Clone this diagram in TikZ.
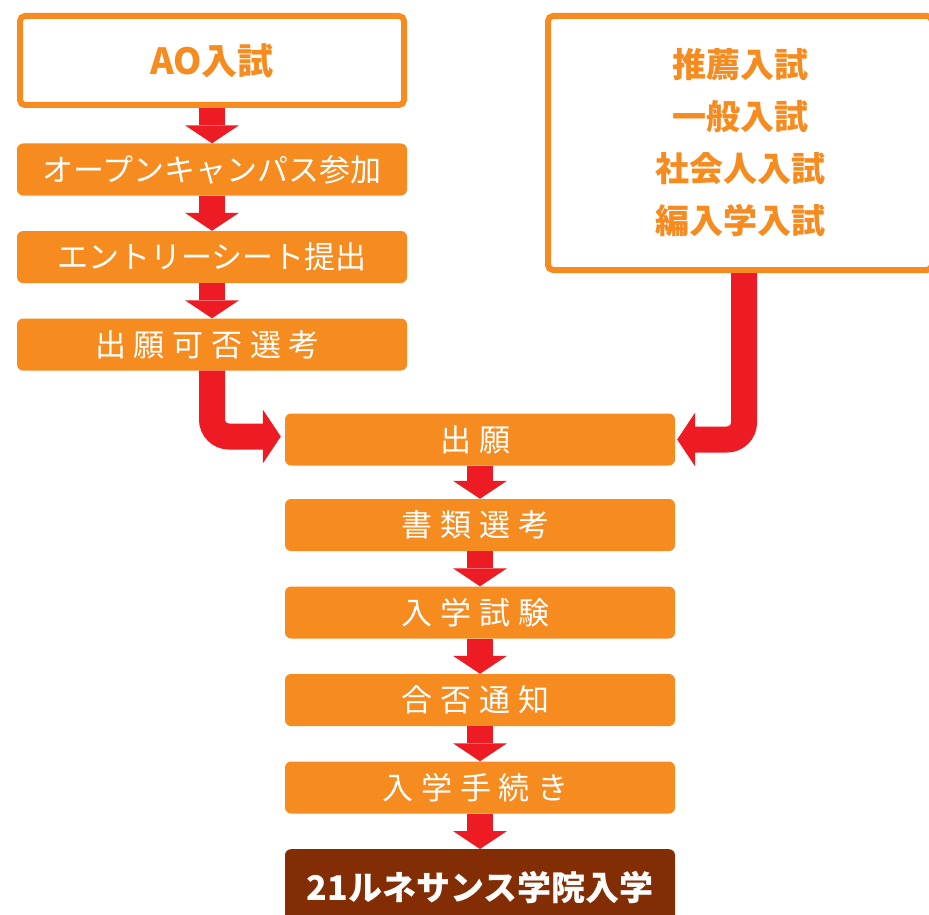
\documentclass[tikz,border=0pt]{standalone}
\usepackage{fontspec}
\newfontfamily\jp{Noto Sans CJK JP}
\newfontfamily\jpw[LetterSpace=25]{Noto Sans CJK JP}
\newcommand\wtxt[1]{#1\kern9pt}
\usetikzlibrary{arrows.meta}
\definecolor{ora}{HTML}{F68B1F}
\definecolor{arr}{HTML}{ED1C24}
\definecolor{brn}{HTML}{832D04}
\begin{document}
\begin{tikzpicture}[x=1pt,y=-1pt,
  outline/.style={draw=ora,line width=6pt,fill=white,rounded corners=5pt,minimum width=384pt,inner sep=0pt,text=ora,font=\jp\bfseries\fontsize{34}{52}\selectfont,align=center},
  stage/.style={fill=ora,rounded corners=6pt,minimum width=390pt,minimum height=52pt,text=white,inner sep=0pt,font=\jp\fontsize{31}{36}\selectfont},
  wide/.style={stage,font=\jpw\fontsize{31}{36}\selectfont},
  final/.style={fill=brn,rounded corners=6pt,minimum width=390pt,minimum height=80pt,text=white,inner sep=0pt,font=\jp\bfseries\fontsize{34}{40}\selectfont},
  flow/.style={draw=arr,line width=26pt,-{Triangle[width=54pt,length=18pt,line width=0pt]}},
]
\useasboundingbox (0,0) rectangle (929,915);
\clip (0,0) rectangle (929,915);
\fill[white] (0,0) rectangle (929,915);

% left column
\node[outline,minimum height=89pt,font=\jp\bfseries\fontsize{36}{52}\selectfont] (ao) at (212,60.5) {AO入試};
\node[stage] (oc) at (212,169.5) {オープンキャンパス参加};
\node[stage] (es) at (212,257) {エントリーシート提出};
\node[wide] (sk) at (212,344.5) {\wtxt{出願可否選考}};

% right box
\node[outline,minimum height=254pt] (rb) at (740,143) {推薦入試\\一般入試\\社会人入試\\編入学入試};

% centre column
\node[wide] (sg) at (480,439.5) {\wtxt{出願}};
\node[wide] (sr) at (480,525) {\wtxt{書類選考}};
\node[wide] (nk) at (480,612.5) {\wtxt{入学試験}};
\node[wide] (gt) at (480,700) {\wtxt{合否通知}};
\node[wide] (tt) at (480,787.5) {\wtxt{入学手続き}};
\node[final,anchor=north] (fin) at (480,849) {};
\node[text=white,font=\jp\bfseries\fontsize{34}{40}\selectfont] (fint) at (fin.center |- 0,887) {21ルネサンス学院入学};

% connectors
\draw[flow] (ao.south) -- (oc.north);
\draw[flow] (oc.south) -- (es.north);
\draw[flow] (es.south) -- (sk.north);
\draw[flow,rounded corners=17pt,shorten >=4pt] (sk.south) |- ([yshift=3pt]sg.west);
\draw[flow,rounded corners=17pt,shorten >=2pt] ([xshift=4pt]rb.south) |- (sg.east);
\draw[flow] (sg.south) -- (sr.north);
\draw[flow] (sr.south) -- (nk.north);
\draw[flow] (nk.south) -- (gt.north);
\draw[flow] (gt.south) -- (tt.north);
\draw[flow] (tt.south) -- (fin.north);
\end{tikzpicture}
\end{document}
